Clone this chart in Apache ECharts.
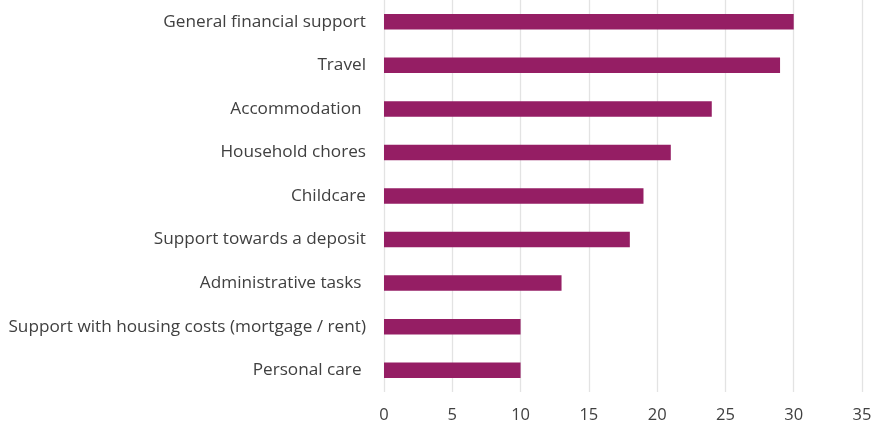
<!DOCTYPE html>
<html>
<head>
<meta charset="utf-8">
<script src="https://cdn.jsdelivr.net/npm/echarts@6/dist/echarts.min.js"></script>
<style>
  html, body { margin: 0; padding: 0; background: #ffffff; }
  #chart { width: 875px; height: 425px; }
</style>
</head>
<body>
<div id="chart"></div>
<script>
// Types of support, listed top to bottom
const categories = [
  'General financial support',
  'Travel',
  'Accommodation ',
  'Household chores',
  'Childcare',
  'Support towards a deposit',
  'Administrative tasks ',
  'Support with housing costs (mortgage / rent)',
  'Personal care '
];
const values = [30, 29, 24, 21, 19, 18, 13, 10, 10];
const xTicks = { min: 0, max: 35, interval: 5 };

const chart = echarts.init(document.getElementById('chart'), null, { renderer: 'canvas' });
chart.setOption({
  animation: false,
  grid: { left: 384, right: 13, top: -1, bottom: 33, containLabel: false },
  xAxis: {
    type: 'value',
    min: xTicks.min,
    max: xTicks.max,
    interval: xTicks.interval,
    axisLine: { show: false },
    axisTick: { show: false },
    axisLabel: { color: '#404040', fontFamily: 'Open Sans', fontSize: 16.5, margin: 15 },
    splitLine: { lineStyle: { color: '#e3e3e3', width: 1.3 } }
  },
  yAxis: {
    type: 'category',
    inverse: true,
    data: categories,
    axisLine: { show: false },
    axisTick: { show: false },
    axisLabel: { color: '#404040', fontFamily: 'Open Sans', fontSize: 17.2, margin: 18 }
  },
  series: [{
    type: 'bar',
    data: values,
    barWidth: 15.5,
    itemStyle: { color: '#951e64' }
  }]
});
</script>
</body>
</html>
